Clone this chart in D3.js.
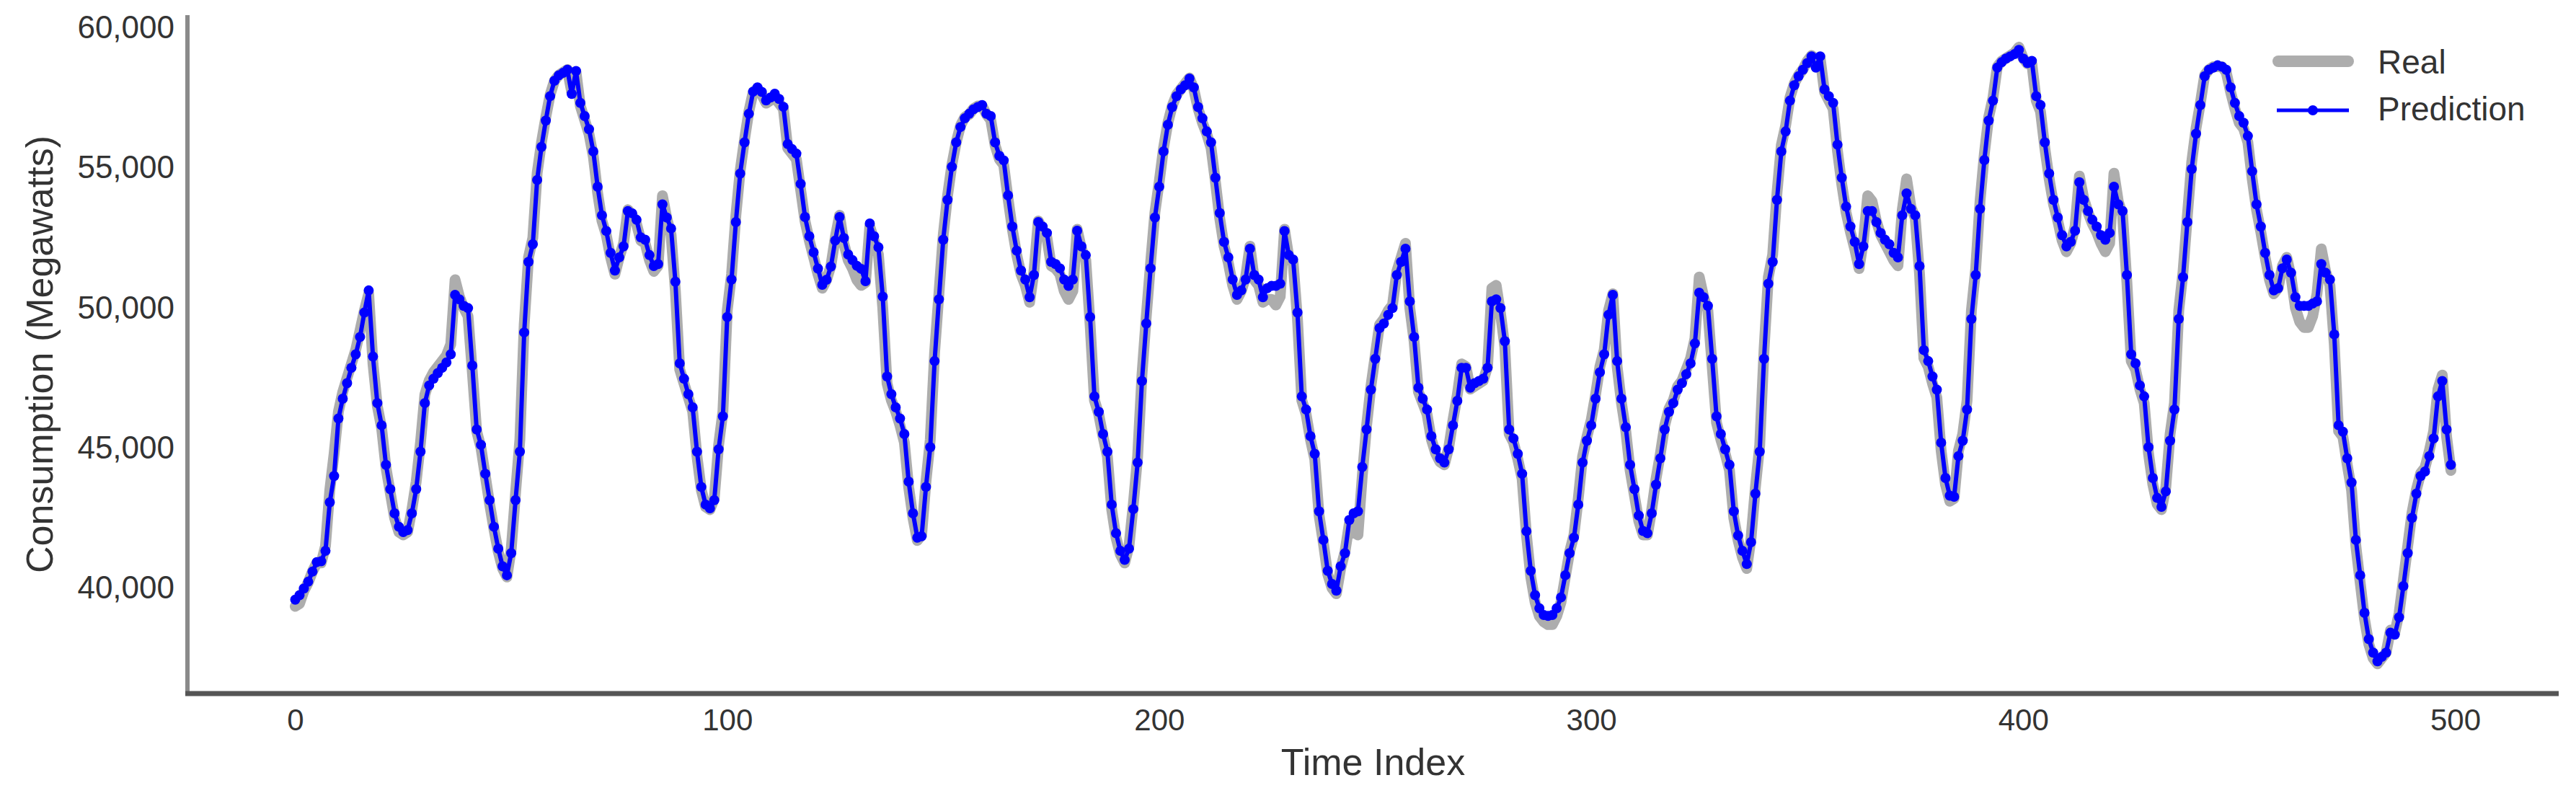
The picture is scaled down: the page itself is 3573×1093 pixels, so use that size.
<!DOCTYPE html>
<html><head><meta charset="utf-8">
<script src="https://cdn.jsdelivr.net/npm/d3@7"></script>
<style>
body{margin:0;background:#fff;}
svg{display:block;}
text{font-family:"Liberation Sans",Arial,Helvetica,sans-serif;}
</style>
</head><body>
<svg id="chart" width="3573" height="1093"></svg>
<script>
// ---------------- DATA ----------------
const predValues = [
39590,39750,39990,40230,40590,40930,40960,41330,43060,44000,
46050,46760,47310,47860,48340,48960,49830,50620,48260,46600,
45810,44400,43530,42670,42190,42000,42070,42670,43530,44870,
46600,47230,47470,47670,47860,48050,48340,50460,50300,50070,
49990,47940,45660,45110,44080,43140,42190,41410,40780,40460,
41250,43140,44870,49120,51640,52270,54560,55740,56680,57550,
58100,58290,58380,58490,57630,58450,57310,56840,56370,55580,
54320,53300,
52740,51960,51330,51800,52190,53450,53370,53140,52510,52430,
51880,51490,51560,53690,53220,52830,50930,48020,47470,46920,
46450,44870,43610,42980,42850,43140,44950,46130,49670,51010,
53060,54790,55900,56920,57710,57860,57700,57400,57500,57640,
57450,57170,55840,55660,55500,54420,53240,52550,51980,51400,
50820,51000,51470,52400,53240,52490,51900,51700,51500,51390,
50950,53010,52550,52160,50400,47550,46920,46450,46050,
45500,43800,42670,41800,41850,43610,45030,48100,50300,
52430,53850,55030,55900,56450,56760,56920,57080,57160,57230,
56920,56840,55900,55420,55260,54010,52900,52040,51330,51010,
50380,51170,53060,52900,52670,51640,51560,51410,51010,50780,
51010,52750,52190,51880,49670,46840,46290,45500,44870,42980,
41960,41330,41010,41410,42820,44480,47390,49440,51410,53220,
54320,55580,56530,57160,57550,57790,57940,58180,57860,57160,
56760,56290,55900,54640,53380,52350,
51800,51010,50460,50620,51010,52110,51170,51010,50380,50700,
50780,50780,50860,52740,51880,51720,49830,46840,46370,45420,
44790,42740,41720,40620,40150,39910,40780,41250,42430,42670,
42740,44320,45660,47080,48180,49280,49440,49750,49990,51170,
51640,52110,50230,48960,47150,46760,46370,45420,44950,44630,
44480,44950,45810,46680,47860,47860,47150,47310,47390,47470,
47860,50230,50300,49990,48810,45660,45340,44790,44080,42030,
40620,
39750,39280,39040,39010,39040,39280,39670,40460,41250,41800,
42980,44480,45260,45810,46760,47700,48340,49750,50460,48100,
46760,45740,44400,43530,42590,42040,41960,42670,43690,44630,
45660,46290,46600,47080,47310,47630,48020,48730,50540,50380,
50070,48180,46130,45500,44950,44400,42740,41880,41330,40860,
41640,43370,44870,48180,50860,51640,53850,55580,56290,57390,
57940,58260,58490,58730,58970,58570,58970,57790,57550,57310,
55820,54640,53610,52900,52350,51560,52190,53450,53450,53060,
52670,52430,52270,51960,51800,53300,54080,53530,53300,51490,
48490,48100,47550,47080,45190,43930,43300,43260,44710,45260,
46370,49600,51170,53530,55270,56680,57390,58570,58760,58890,
58970,59050,59200,58890,58730,58810,57550,57230,55900,54790,
53850,53220,52590,52190,52350,52750,54480,53850,53450,53140,
52900,52590,52430,52670,54320,53690,53450,51170,48340,48020,
47230,
46840,45030,43930,43220,42900,43450,45260,46370,49600,51090,
53060,54950,56210,57230,58260,58490,58570,58650,58600,58490,
57860,57310,56840,56600,56130,54870,53690,52900,51960,51170,
50620,50700,51410,51720,51250,50380,50070,50070,50070,50150,
50230,51560,51250,51010,49050,45810,45580,44630,43770,41720,
40460,39120,38180,37700,37390,37550,37700,38410,38340,38960,
40070,41250,42510,43370,44000,44160,44710,45340,46840,47390,
45660,44400
];

const realValues = [
39350,39450,39900,40200,40600,40900,40900,41500,43500,44800,
46300,47000,47500,48000,48500,49200,49900,50500,48000,46500,
45700,44300,43400,42500,42000,41900,42000,42800,43800,45200,
46900,47400,47700,47900,48100,48300,48700,51000,50400,50000,
49700,47700,45600,45000,44000,43000,42100,41300,40700,40400,
41400,43400,45300,49400,51800,52500,54800,55900,56800,57600,
58100,58300,58400,58500,57700,58400,57200,56700,56200,55400,
54100,53100,
52600,51800,51200,51800,52300,53500,53300,53000,52400,52300,
51700,51300,51500,54000,53200,52600,50600,47800,47300,46800,
46300,44700,43500,42900,42800,43200,45100,46300,49900,51200,
53300,54900,56000,57000,57700,57800,57600,57300,57400,57500,
57300,57100,55700,55500,55300,54200,53100,52400,51800,51200,
50700,51000,51500,52500,53300,52300,51700,51400,51000,50800,
50900,52900,52400,51900,50000,47300,46700,46300,45800,
45200,43600,42500,41700,41900,43800,45300,48400,50500,
52600,54000,55100,55900,56500,56800,56900,57100,57200,57200,
56900,56700,55800,55300,55100,53900,52800,51900,51200,50800,
50200,51300,53100,52800,52500,51500,51400,51200,50600,50300,
50600,52800,52100,51700,49400,46700,46200,45400,44700,42800,
41800,41200,40900,41500,43000,44700,47600,49700,51600,53400,
54500,55700,56600,57200,57600,57800,58000,58200,57800,57100,
56600,56200,55700,54500,53200,52200,
51600,50800,50300,50600,51100,52200,51000,50800,50200,50300,
50300,50100,50400,52800,51800,51600,49600,46700,46200,45300,
44600,42600,41600,40500,40000,39800,40700,41300,42300,42000,
41900,44000,45800,47200,48300,49400,49600,49900,50100,51300,
51800,52300,50000,48800,47000,46600,46200,45300,44800,44500,
44400,45000,46000,46900,48000,47900,47100,47200,47300,47400,
47900,50700,50800,49800,48600,45500,45200,44600,43900,41900,
40400,
39500,39000,38800,38700,38700,39000,39500,40400,41300,41900,
43200,44700,45400,46000,46900,47900,48500,49900,50500,47900,
46600,45600,44200,43300,42400,41900,41900,42800,43900,44800,
45800,46400,46700,47200,47400,47800,48200,48900,51100,50400,
49900,47900,45900,45300,44800,44200,42500,41700,41100,40700,
41800,43600,45100,48500,51100,51900,54100,55800,56500,57500,
58000,58300,58500,58800,59000,58600,58900,57700,57400,57100,
55600,54400,53400,52700,52100,51400,52400,54000,53800,53100,
52600,52300,52000,51700,51500,53500,54600,53600,53200,51200,
48200,47900,47300,46800,44900,43700,43100,43200,44900,45500,
46700,49900,51400,53800,55500,56800,57500,58600,58800,58900,
59000,59100,59300,58900,58700,58700,57400,57000,55700,54600,
53700,53100,52400,52000,52300,52900,54700,53900,53400,53000,
52700,52300,52000,52300,54800,53800,53300,50900,48100,47800,
47100,
46600,44800,43700,43000,42800,43600,45500,46600,49900,51300,
53300,55200,56400,57300,58300,58500,58600,58600,58600,58400,
57700,57100,56600,56400,55900,54600,53500,52700,51800,51000,
50500,50700,51500,51800,51100,50000,49500,49300,49300,49700,
50500,52100,51300,50800,48700,45600,45400,44400,43500,41500,
40200,38900,38000,37500,37300,37500,37700,38500,38400,39100,
40300,41500,42700,43500,44100,44300,44900,45600,47100,47600,
45400,44200
];

const xTickValues = [0, 100, 200, 300, 400, 500];
const yTickValues = [40000, 45000, 50000, 55000, 60000];
const seriesNames = ["Real", "Prediction"];
const xLabel = "Time Index";
const yLabel = "Consumption (Megawatts)";

// ---------------- LAYOUT ----------------
const plot = {left: 260, right: 3549, top: 21, bottom: 962};
const X_DOMAIN = [-24.95, 523.95];
const Y_DOMAIN = [36240, 60440];

const svg = d3.select("#chart");
const x = d3.scaleLinear().domain(X_DOMAIN).range([plot.left, plot.right]);
const y = d3.scaleLinear().domain(Y_DOMAIN).range([plot.bottom, plot.top]);

const realData = realValues.map((v, i) => ({i, v}));
const predData = predValues.map((v, i) => ({i, v}));

const line = d3.line().x(d => x(d.i)).y(d => y(d.v));

// Real line (thick gray)
svg.append("path")
  .datum(realData)
  .attr("d", line)
  .attr("fill", "none")
  .attr("stroke", "#adadad")
  .attr("stroke-width", 15)
  .attr("stroke-linejoin", "round")
  .attr("stroke-linecap", "round");

// Prediction line (blue)
svg.append("path")
  .datum(predData)
  .attr("d", line)
  .attr("fill", "none")
  .attr("stroke", "#0000ff")
  .attr("stroke-width", 6)
  .attr("stroke-linejoin", "round");

svg.append("g").selectAll("circle")
  .data(predData)
  .join("circle")
  .attr("cx", d => x(d.i))
  .attr("cy", d => y(d.v))
  .attr("r", 7)
  .attr("fill", "#0000ff");

// Axes
const yAxis = d3.axisLeft(y).tickValues(yTickValues).tickFormat(d3.format(","))
  .tickSize(0).tickSizeOuter(0).tickPadding(18);
const gy = svg.append("g").attr("transform", `translate(${plot.left},0)`).call(yAxis);
gy.select(".domain").attr("stroke", "#8a8a8a").attr("stroke-width", 6)
  .attr("d", `M0,${plot.bottom + 3}V${plot.top}`);
gy.selectAll(".tick text").attr("font-size", 44).attr("fill", "#333")
  .attr("font-family", "'Liberation Sans', Arial, sans-serif");

const xAxis = d3.axisBottom(x).tickValues(xTickValues).tickFormat(d3.format("d"))
  .tickSize(0).tickSizeOuter(0).tickPadding(21);
const gx = svg.append("g").attr("transform", `translate(0,${plot.bottom})`).call(xAxis);
gx.select(".domain").attr("stroke", "#555").attr("stroke-width", 7)
  .attr("d", `M${plot.left - 3},0H${plot.right}`);
gx.selectAll(".tick text").attr("font-size", 42).attr("fill", "#333")
  .attr("font-family", "'Liberation Sans', Arial, sans-serif");

// Axis labels
svg.append("text")
  .attr("x", (plot.left + plot.right) / 2)
  .attr("y", 1075)
  .attr("text-anchor", "middle")
  .attr("font-size", 52)
  .attr("fill", "#333")
  .text(xLabel);

svg.append("text")
  .attr("transform", `translate(73,${(plot.top + plot.bottom) / 2}) rotate(-90)`)
  .attr("text-anchor", "middle")
  .attr("font-size", 52)
  .attr("fill", "#333")
  .text(yLabel);

// Legend
const lg = svg.append("g");
lg.append("line").attr("x1", 3160).attr("x2", 3257).attr("y1", 85).attr("y2", 85)
  .attr("stroke", "#adadad").attr("stroke-width", 16).attr("stroke-linecap", "round");
lg.append("line").attr("x1", 3158).attr("x2", 3258).attr("y1", 153).attr("y2", 153)
  .attr("stroke", "#0000ff").attr("stroke-width", 5);
lg.append("circle").attr("cx", 3208).attr("cy", 153).attr("r", 7).attr("fill", "#0000ff");
lg.append("text").attr("x", 3298).attr("y", 102).attr("font-size", 46).attr("fill", "#333").text(seriesNames[0]);
lg.append("text").attr("x", 3298).attr("y", 167).attr("font-size", 46).attr("fill", "#333").text(seriesNames[1]);
</script>
</body></html>
